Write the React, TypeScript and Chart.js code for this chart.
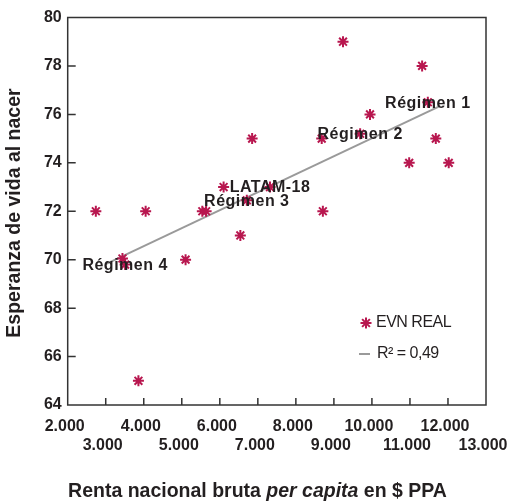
import React, { useEffect, useRef } from 'react';
import { Chart, registerables } from 'chart.js';

Chart.register(...registerables);

// ---- data ----
const countryIncome = [2740, 3440, 3860, 4050, 5100, 5540, 5640, 6100, 6540, 6850, 8680, 8710, 9240, 9950, 10980, 11320, 11680, 12020];
const countryLifeExp = [72, 70.05, 65, 72, 70, 72, 72, 73, 71, 75, 75, 72, 79, 76, 74, 78, 75, 74];
const groupNames = ['Régimen 1', 'Régimen 2', 'LATAM-18', 'Régimen 3', 'Régimen 4'];
const groupIncome = [11470, 9690, 7320, 6710, 3510];
const groupLifeExp = [76.5, 75.2, 73, 72.45, 69.8];
const trendIncome = [3000, 11800];
const trendLifeExp = [69.82, 76.35];
const xTickValues = [2000, 3000, 4000, 5000, 6000, 7000, 8000, 9000, 10000, 11000, 12000, 13000];
const yTickValues = [64, 66, 68, 70, 72, 74, 76, 78, 80];
const seriesName = 'EVN REAL';
const trendName = 'R² = 0,49';
const xTitleParts: [string, boolean][] = [['Renta nacional bruta ', false], ['per capita', true], [' en $ PPA', false]];
const yTitle = 'Esperanza de vida al nacer';

const RED = '#B8174F';
const GRAY = '#9a9a9a';
const INK = '#231f20';
const FAMILY = '"Liberation Sans", Arial, Helvetica, sans-serif';

const fmtThousands = (v: number) => `${Math.round(v / 1000)}.000`;

function drawStar(ctx: CanvasRenderingContext2D, cx: number, cy: number, r: number) {
  ctx.beginPath();
  for (let k = 0; k < 4; k++) {
    const a = (k * Math.PI) / 4;
    ctx.moveTo(cx - Math.cos(a) * r, cy - Math.sin(a) * r);
    ctx.lineTo(cx + Math.cos(a) * r, cy + Math.sin(a) * r);
  }
  ctx.stroke();
}

const decorPlugin = {
  id: 'decor',
  beforeDatasetsDraw(chart: any) {
    const { ctx, chartArea: a, scales } = chart;
    const x = scales.x;
    const y = scales.y;
    ctx.save();
    ctx.strokeStyle = '#333';
    ctx.lineWidth = 1.5;
    ctx.strokeRect(a.left, a.top, a.right - a.left, a.bottom - a.top);
    ctx.beginPath();
    yTickValues.slice(1, -1).forEach((v) => {
      const py = y.getPixelForValue(v);
      ctx.moveTo(a.left, py);
      ctx.lineTo(a.left + 8, py);
    });
    xTickValues.slice(1, -1).forEach((v) => {
      const px = x.getPixelForValue(v);
      ctx.moveTo(px, a.bottom);
      ctx.lineTo(px, a.bottom - 7);
    });
    ctx.stroke();
    ctx.restore();
  },
  afterDatasetsDraw(chart: any) {
    const { ctx, scales } = chart;
    const x = scales.x;
    const y = scales.y;
    ctx.save();
    // group labels centred on their points
    ctx.fillStyle = INK;
    ctx.font = `bold 16px ${FAMILY}`;
    (ctx as any).letterSpacing = '0.5px';
    ctx.textAlign = 'center';
    ctx.textBaseline = 'middle';
    groupNames.forEach((name, i) => {
      ctx.fillText(name, x.getPixelForValue(groupIncome[i]), y.getPixelForValue(groupLifeExp[i]) + 1);
    });
    (ctx as any).letterSpacing = '0px';

    // legend
    ctx.font = `16px ${FAMILY}`;
    (ctx as any).letterSpacing = '-0.5px';
    ctx.textAlign = 'left';
    ctx.strokeStyle = RED;
    ctx.lineWidth = 2;
    drawStar(ctx, 366, 323, 5.5);
    ctx.fillStyle = INK;
    ctx.fillText(seriesName, 376, 323);
    ctx.strokeStyle = GRAY;
    ctx.lineWidth = 2;
    ctx.beginPath();
    ctx.moveTo(359, 354);
    ctx.lineTo(370, 354);
    ctx.stroke();
    ctx.fillText(trendName, 377, 354);
    (ctx as any).letterSpacing = '0px';

    // y title
    ctx.font = `bold 19.5px ${FAMILY}`;
    ctx.textAlign = 'center';
    ctx.save();
    ctx.translate(15, 213);
    ctx.rotate(-Math.PI / 2);
    ctx.fillText(yTitle, 0, 0);
    ctx.restore();

    // x title (mixed italic)
    const fontFor = (it: boolean) => `${it ? 'italic ' : ''}bold 19.5px ${FAMILY}`;
    let total = 0;
    xTitleParts.forEach(([t, it]) => {
      ctx.font = fontFor(it);
      total += ctx.measureText(t).width;
    });
    let cx = 257.5 - total / 2;
    ctx.textAlign = 'left';
    xTitleParts.forEach(([t, it]) => {
      ctx.font = fontFor(it);
      ctx.fillText(t, cx, 492);
      cx += ctx.measureText(t).width;
    });
    ctx.restore();
  },
};

export default function App() {
  const ref = useRef<HTMLCanvasElement | null>(null);
  useEffect(() => {
    if (!ref.current) return;
    const points = [
      ...countryIncome.map((v, i) => ({ x: v, y: countryLifeExp[i] })),
      ...groupIncome.map((v, i) => ({ x: v, y: groupLifeExp[i] })),
    ];
    const trend = trendIncome.map((v, i) => ({ x: v, y: trendLifeExp[i] }));
    const chart = new Chart(ref.current, {
      type: 'scatter',
      data: {
        datasets: [
          {
            label: seriesName,
            data: points,
            pointStyle: 'star',
            pointRadius: 5.5,
            pointHoverRadius: 5.5,
            borderColor: RED,
            backgroundColor: RED,
            borderWidth: 2,
          },
          {
            label: trendName,
            type: 'line',
            data: trend,
            borderColor: GRAY,
            borderWidth: 2,
            pointRadius: 0,
            fill: false,
          } as any,
        ],
      },
      options: {
        animation: false,
        responsive: false,
        devicePixelRatio: 1,
        layout: { padding: { top: 17.5, right: 21, left: 0, bottom: 0 } },
        plugins: { legend: { display: false }, tooltip: { enabled: false }, title: { display: false } },
        scales: {
          x: {
            type: 'linear',
            min: 2000,
            max: 13000,
            afterFit: (s: any) => { s.height = 98; s.paddingLeft = 0; s.paddingRight = 0; },
            afterBuildTicks: (s: any) => { s.ticks = xTickValues.map((v) => ({ value: v })); },
            grid: { display: false, drawTicks: false },
            border: { display: false },
            ticks: {
              autoSkip: false,
              maxRotation: 0,
              minRotation: 0,
              padding: 12.5,
              labelOffset: -3,
              color: INK,
              font: { family: FAMILY, size: 16, weight: 'bold', lineHeight: 1.15 },
              callback: (v: any, i: number) => (i % 2 === 0 ? [fmtThousands(v), ''] : ['', fmtThousands(v)]),
            },
          },
          y: {
            type: 'linear',
            min: 64,
            max: 80,
            afterFit: (s: any) => { s.width = 67.7; s.paddingTop = 0; s.paddingBottom = 0; },
            afterBuildTicks: (s: any) => { s.ticks = yTickValues.map((v) => ({ value: v })); },
            grid: { display: false, drawTicks: false },
            border: { display: false },
            ticks: {
              padding: 6,
              color: INK,
              font: { family: FAMILY, size: 16, weight: 'bold' },
              callback: (v: any) => String(v),
            },
          },
        },
      } as any,
      plugins: [decorPlugin],
    });
    return () => chart.destroy();
  }, []);
  return (
    <div style={{ position: 'fixed', left: 0, top: 0, width: 507, height: 503, background: '#fff' }}>
      <canvas ref={ref} width={507} height={503} style={{ width: 507, height: 503, display: 'block' }} />
    </div>
  );
}
